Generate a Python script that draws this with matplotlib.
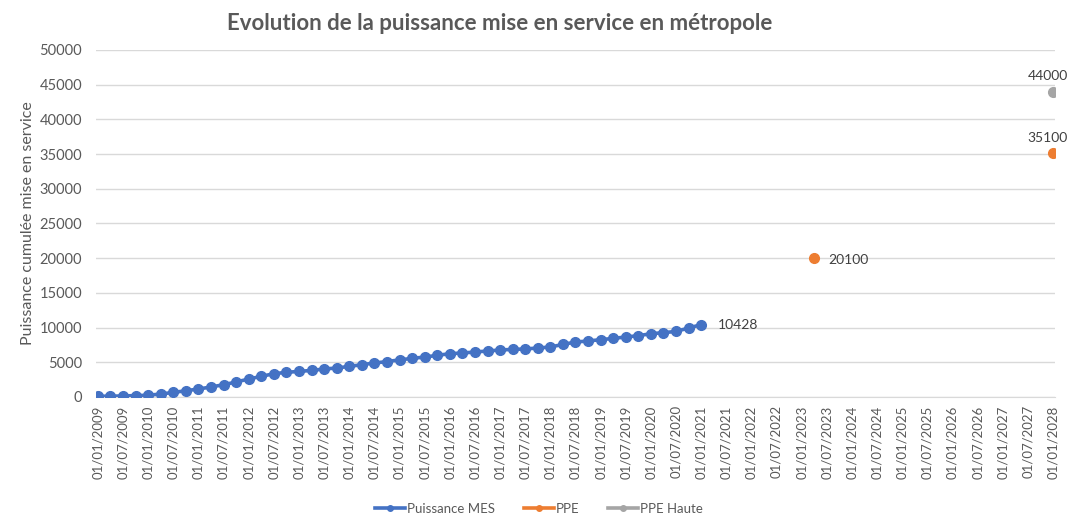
import matplotlib

matplotlib.use("Agg")
import matplotlib.pyplot as plt
from matplotlib.lines import Line2D

plt.rcParams["font.family"] = ["Lato", "DejaVu Sans"]

# Quarterly categories from 01/01/2009 to 01/01/2028
years = list(range(2009, 2029))
quarters = [f"01/{m:02d}/{y}" for y in years for m in (1, 4, 7, 10)]
quarters = quarters[: quarters.index("01/01/2028") + 1]

# Puissance MES, quarterly from 01/01/2009 to 01/01/2021
mes_values = [
    100, 120, 150, 200, 250, 430, 660, 900, 1150, 1440,
    1770, 2160, 2590, 2970, 3360, 3550, 3690, 3830, 4030, 4180,
    4410, 4650, 4900, 5100, 5350, 5560, 5760, 6000, 6240, 6340,
    6480, 6630, 6770, 6860, 6920, 7060, 7200, 7580, 7920, 8070,
    8260, 8440, 8650, 8830, 9120, 9270, 9450, 9940, 10428,
]
ppe_dates = ["01/04/2023", "01/01/2028"]
ppe_values = [20100, 35100]
ppe_haute_dates = ["01/01/2028"]
ppe_haute_values = [44000]

tick_labels = quarters[::2]

BLUE = "#4472C4"
ORANGE = "#ED7D31"
GREY = "#A5A5A5"
TEXT = "#595959"

fig = plt.figure(figsize=(10.71, 5.18), dpi=100)
ax = fig.add_axes([96 / 1071, 1 - 397 / 518, (1055 - 96) / 1071, (397 - 50) / 518])

x_mes = list(range(len(mes_values)))
x_ppe = [quarters.index(d) for d in ppe_dates]
x_haute = [quarters.index(d) for d in ppe_haute_dates]

ax.plot(x_mes, mes_values, color=BLUE, lw=2.6, marker="o", ms=7,
        zorder=3)
ax.plot(x_ppe, ppe_values, color=ORANGE, lw=0, marker="o", ms=7, zorder=3)
ax.plot(x_haute, ppe_haute_values, color=GREY, lw=0, marker="o", ms=7,
        zorder=3)

lab_kw = dict(fontsize=10, color="#404040")
ax.annotate(f"{mes_values[-1]}", (x_mes[-1], mes_values[-1]), xytext=(12, 0),
            textcoords="offset points", va="center", ha="left", **lab_kw)
ax.annotate(f"{ppe_values[0]}", (x_ppe[0], ppe_values[0]), xytext=(10, -2),
            textcoords="offset points", va="center", ha="left", **lab_kw)
ax.annotate(f"{ppe_values[1]}", (x_ppe[1], ppe_values[1]), xytext=(-4, 7),
            textcoords="offset points", va="bottom", ha="center", **lab_kw)
ax.annotate(f"{ppe_haute_values[0]}", (x_haute[0], ppe_haute_values[0]),
            xytext=(-4, 7), textcoords="offset points", va="bottom",
            ha="center", **lab_kw)

ax.set_xlim(-0.15, len(quarters) - 1 + 0.15)
ax.set_ylim(0, 50000)
ax.set_yticks(range(0, 50001, 5000))
ax.set_xticks(range(0, len(quarters), 2))
ax.set_xticklabels(tick_labels, rotation=90, fontsize=9.5, color=TEXT)
ax.tick_params(axis="y", labelsize=10.5, colors=TEXT, length=0, pad=10)
ax.tick_params(axis="x", length=0, pad=6)
ax.grid(axis="y", color="#D9D9D9", lw=1)
ax.set_axisbelow(True)
for side in ("top", "right", "left"):
    ax.spines[side].set_visible(False)
ax.spines["bottom"].set_color("#D9D9D9")

ax.set_ylabel("Puissance cumulée mise en service", fontsize=11.5, color=TEXT,
              labelpad=3)
fig.text(0.467, 0.955, "Evolution de la puissance mise en service en métropole",
         ha="center", va="center", fontsize=16, fontweight="bold", color="#595959")

handles = [
    Line2D([], [], color=c, lw=2.6, marker="o", ms=4)
    for c in (BLUE, ORANGE, GREY)
]
fig.legend(handles, ["Puissance MES", "PPE", "PPE Haute"], loc="center",
           bbox_to_anchor=(0.503, 0.018), ncol=3, frameon=False,
           fontsize=9.5, labelcolor=TEXT, handlelength=2.3, columnspacing=2.2,
           handletextpad=0.1)

fig.savefig("out.png", dpi=100)
